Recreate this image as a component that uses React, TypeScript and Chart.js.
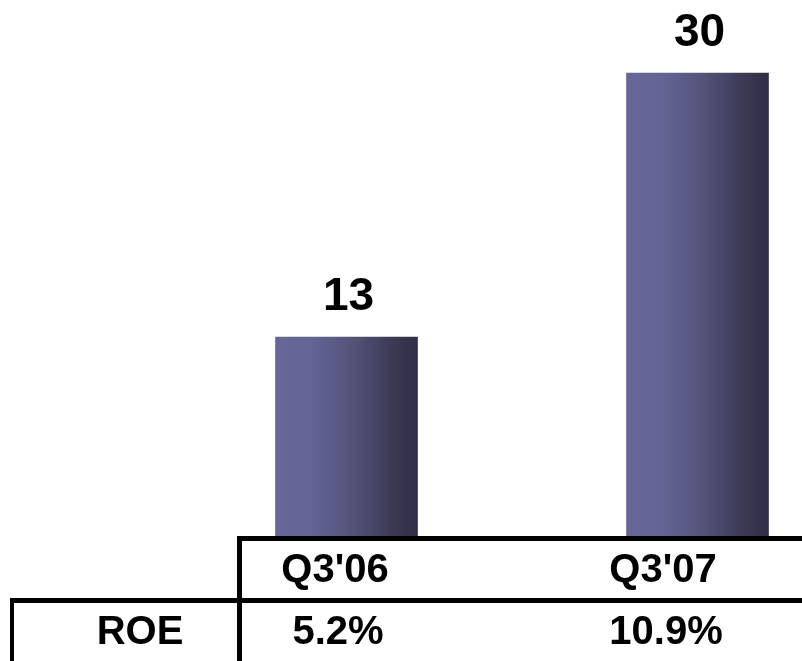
import React, { useEffect, useRef } from "react";
import { Chart, registerables } from "chart.js";

Chart.register(...registerables);

// Net income by quarter, with the return on equity shown in the table below
const categories = ["Q3'06", "Q3'07"];
const netIncome = [13, 30];
const roeValues = ["5.2%", "10.9%"];
const roeHeader = "ROE";

const FONT = "'Liberation Sans', Arial, Helvetica, sans-serif";

const barGradient = (ctx: any) => {
  const chart = ctx.chart;
  const xScale = chart.scales?.x;
  if (!chart.chartArea || !xScale) return "#5c5c8a";
  const cx = xScale.getPixelForValue(ctx.dataIndex);
  const half = 71;
  const g = chart.ctx.createLinearGradient(cx - half, 0, cx + half, 0);
  g.addColorStop(0, "#666699");
  g.addColorStop(0.25, "#646496");
  g.addColorStop(0.55, "#535379");
  g.addColorStop(0.8, "#3c3c58");
  g.addColorStop(1, "#2f2f45");
  return g;
};

// Value labels above each bar
const valueLabels = {
  id: "valueLabels",
  afterDatasetsDraw(chart: any) {
    const { ctx } = chart;
    const meta = chart.getDatasetMeta(0);
    ctx.save();
    ctx.fillStyle = "#000";
    ctx.font = `bold 46px ${FONT}`;
    ctx.textAlign = "center";
    ctx.textBaseline = "alphabetic";
    meta.data.forEach((bar: any, i: number) => {
      ctx.fillText(String(netIncome[i]), bar.x + 2, bar.y - 27);
    });
    ctx.restore();
  },
};

// Data table drawn under the plot area
const dataTable = {
  id: "dataTable",
  afterDraw(chart: any) {
    const { ctx, chartArea, width, height } = chart;
    const base = chartArea.bottom;
    const line = 5;
    const innerLeft = 237;
    const outerLeft = 10;
    const rowSplit = base + 59;
    const colCenters = [335, 663];

    ctx.save();
    ctx.fillStyle = "#000";
    // top border of the table
    ctx.fillRect(innerLeft, base - 3, width - innerLeft, line);
    // left border of the value columns
    ctx.fillRect(innerLeft, base - 3, line, height - base + 3);
    // divider between the header row and the ROE row
    ctx.fillRect(outerLeft, rowSplit, width - outerLeft, line);
    // left border of the ROE row
    ctx.fillRect(outerLeft, rowSplit, 4, height - rowSplit);

    ctx.font = `bold 40px ${FONT}`;
    ctx.textAlign = "center";
    ctx.textBaseline = "alphabetic";
    categories.forEach((c, i) => ctx.fillText(c, colCenters[i], base + 43));
    roeValues.forEach((v, i) => ctx.fillText(v, colCenters[i] + 3, base + 105));
    ctx.fillText(roeHeader, 140, base + 105);
    ctx.restore();
  },
};

export default function App() {
  const canvasRef = useRef<HTMLCanvasElement | null>(null);

  useEffect(() => {
    if (!canvasRef.current) return;
    const chart = new Chart(canvasRef.current, {
      type: "bar",
      data: {
        labels: categories,
        datasets: [
          {
            data: netIncome,
            backgroundColor: barGradient,
            borderWidth: 0,
            barThickness: 142,
            clip: false as any,
          },
        ],
      },
      options: {
        animation: false,
        responsive: false,
        maintainAspectRatio: false,
        events: [],
        layout: { padding: { left: 346.5, right: 104.5, top: 11, bottom: 122 } },
        plugins: {
          legend: { display: false },
          tooltip: { enabled: false },
          title: { display: false },
        },
        scales: {
          x: { type: "category", offset: false, display: false },
          y: { min: 0, max: 34, display: false },
        },
      },
      plugins: [valueLabels, dataTable],
    });
    return () => chart.destroy();
  }, []);

  return (
    <div
      style={{
        position: "fixed",
        left: 0,
        top: 0,
        width: 802,
        height: 661,
        background: "#fff",
      }}
    >
      <canvas ref={canvasRef} width={802} height={661} style={{ display: "block" }} />
    </div>
  );
}
